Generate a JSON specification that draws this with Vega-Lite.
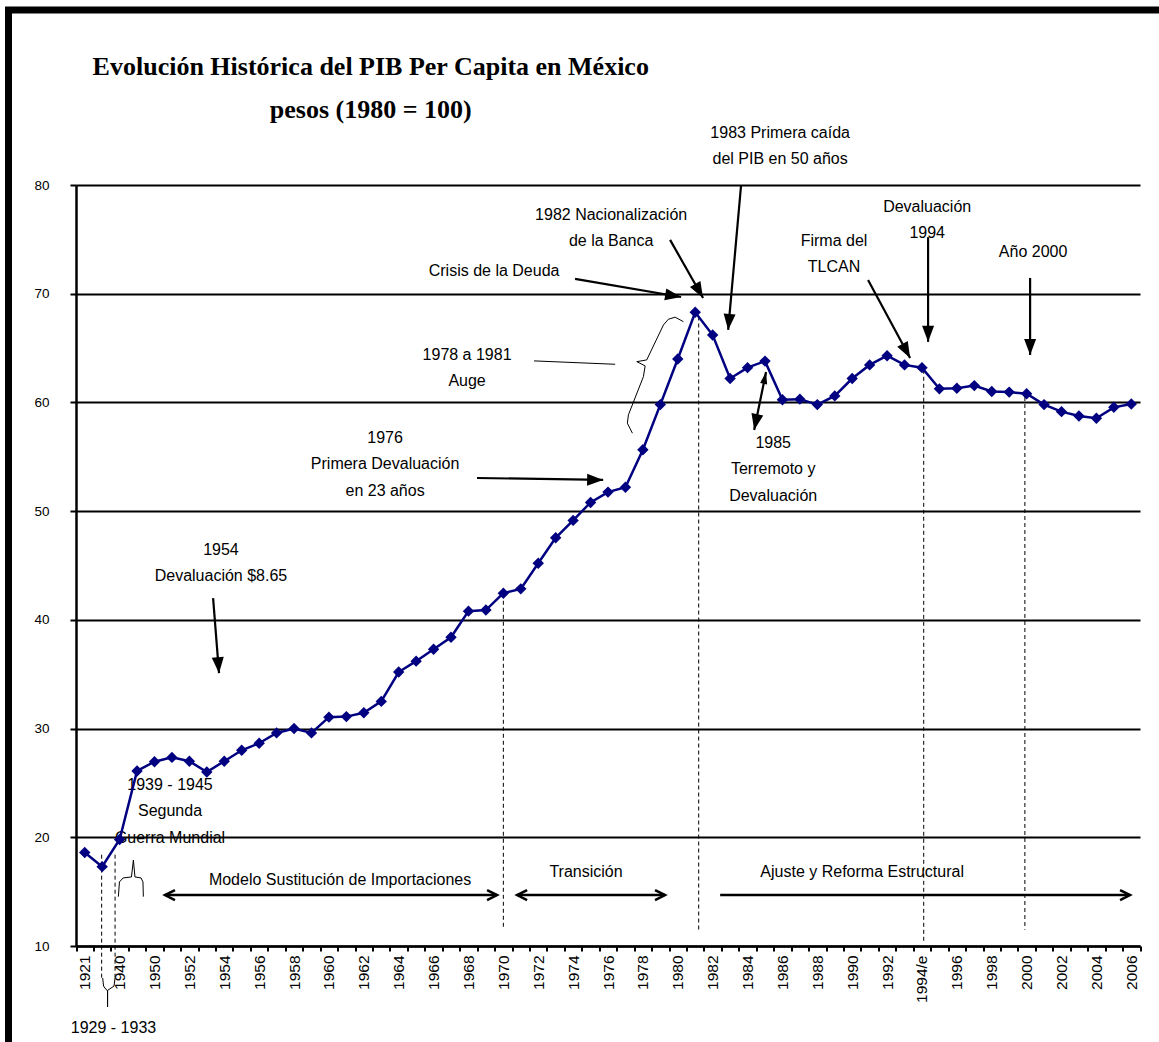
{
  "$schema": "https://vega.github.io/schema/vega-lite/v6.json",
  "width": 1150.5,
  "height": 1032,
  "autosize": {"type": "none"},
  "padding": {"left": 8.5, "top": 10, "right": 0, "bottom": 0},
  "background": "white",
  "config": {
    "view": {"stroke": "black", "strokeWidth": 7, "strokeCap": "square", "strokeDash": [1150.5, 2182.5, 1032, 0]},
    "text": {"font": "Liberation Sans", "fontSize": 16, "color": "black"}
  },
  "title": {
    "text": ["Evolución Histórica del PIB Per Capita en México", "pesos (1980 = 100)"],
    "font": "Liberation Serif",
    "fontSize": 26,
    "fontWeight": "bold",
    "color": "black",
    "anchor": "middle",
    "frame": "group",
    "baseline": "top",
    "offset": 0,
    "dx": -213,
    "dy": 113,
    "lineHeight": 43
  },
  "datasets": {
    "series": [
      {"year": "1921", "value": 18.6},
      {"year": "1932", "value": 17.3},
      {"year": "1940", "value": 19.8},
      {"year": "1945", "value": 26.1},
      {"year": "1950", "value": 26.95},
      {"year": "1951", "value": 27.35},
      {"year": "1952", "value": 27.0},
      {"year": "1953", "value": 26.0},
      {"year": "1954", "value": 27.0},
      {"year": "1955", "value": 28.0},
      {"year": "1956", "value": 28.65},
      {"year": "1957", "value": 29.6},
      {"year": "1958", "value": 30.0},
      {"year": "1959", "value": 29.6},
      {"year": "1960", "value": 31.05},
      {"year": "1961", "value": 31.1},
      {"year": "1962", "value": 31.45},
      {"year": "1963", "value": 32.5},
      {"year": "1964", "value": 35.2},
      {"year": "1965", "value": 36.2},
      {"year": "1966", "value": 37.3},
      {"year": "1967", "value": 38.4},
      {"year": "1968", "value": 40.8},
      {"year": "1969", "value": 40.9},
      {"year": "1970", "value": 42.45},
      {"year": "1971", "value": 42.85},
      {"year": "1972", "value": 45.2},
      {"year": "1973", "value": 47.55},
      {"year": "1974", "value": 49.15},
      {"year": "1975", "value": 50.8},
      {"year": "1976", "value": 51.75},
      {"year": "1977", "value": 52.2},
      {"year": "1978", "value": 55.65},
      {"year": "1979", "value": 59.8},
      {"year": "1980", "value": 64.0},
      {"year": "1981", "value": 68.3},
      {"year": "1982", "value": 66.2},
      {"year": "1983", "value": 62.2},
      {"year": "1984", "value": 63.2},
      {"year": "1985", "value": 63.8},
      {"year": "1986", "value": 60.25},
      {"year": "1987", "value": 60.3},
      {"year": "1988", "value": 59.8},
      {"year": "1989", "value": 60.6},
      {"year": "1990", "value": 62.2},
      {"year": "1991", "value": 63.45},
      {"year": "1992", "value": 64.3},
      {"year": "1993", "value": 63.45},
      {"year": "1994/e", "value": 63.2},
      {"year": "1995", "value": 61.25},
      {"year": "1996", "value": 61.3},
      {"year": "1997", "value": 61.55},
      {"year": "1998", "value": 61.0},
      {"year": "1999", "value": 60.95},
      {"year": "2000", "value": 60.8},
      {"year": "2001", "value": 59.8},
      {"year": "2002", "value": 59.15},
      {"year": "2003", "value": 58.75},
      {"year": "2004", "value": 58.55},
      {"year": "2005", "value": 59.55},
      {"year": "2006", "value": 59.85}
    ],
    "drops": [
      {"t": 1946.97, "value": 18.4, "value2": 7.06},
      {"t": 1947.74, "value": 18.4, "value2": 7.06},
      {"t": 1970.0, "value": 42.4, "value2": 11.5},
      {"t": 1981.2, "value": 67.9, "value2": 11.3},
      {"t": 1994.1, "value": 63.0, "value2": 10.3},
      {"t": 1999.9, "value": 60.5, "value2": 11.5}
    ],
    "braces": [
      {"brace": "auge", "k": 1, "t": 1980.32, "value": 67.43},
      {"brace": "auge", "k": 2, "t": 1979.85, "value": 67.84},
      {"brace": "auge", "k": 3, "t": 1979.46, "value": 67.65},
      {"brace": "auge", "k": 4, "t": 1979.18, "value": 67.13},
      {"brace": "auge", "k": 5, "t": 1978.22, "value": 63.91},
      {"brace": "auge", "k": 6, "t": 1977.65, "value": 63.75},
      {"brace": "auge", "k": 7, "t": 1978.13, "value": 63.36},
      {"brace": "auge", "k": 8, "t": 1978.03, "value": 62.37},
      {"brace": "auge", "k": 9, "t": 1977.17, "value": 58.86},
      {"brace": "auge", "k": 10, "t": 1977.11, "value": 58.09},
      {"brace": "auge", "k": 11, "t": 1977.4, "value": 57.17},
      {"brace": "depresion", "k": 1, "t": 1947.03, "value": 7.06},
      {"brace": "depresion", "k": 2, "t": 1947.08, "value": 6.32},
      {"brace": "depresion", "k": 3, "t": 1947.22, "value": 6.0},
      {"brace": "depresion", "k": 4, "t": 1947.31, "value": 5.91},
      {"brace": "depresion", "k": 5, "t": 1947.31, "value": 4.39},
      {"brace": "depresion", "k": 6, "t": 1947.31, "value": 5.91},
      {"brace": "depresion", "k": 7, "t": 1947.39, "value": 6.0},
      {"brace": "depresion", "k": 8, "t": 1947.68, "value": 6.32},
      {"brace": "depresion", "k": 9, "t": 1947.74, "value": 7.06},
      {"brace": "guerra", "k": 1, "t": 1947.93, "value": 14.54},
      {"brace": "guerra", "k": 2, "t": 1947.99, "value": 15.89},
      {"brace": "guerra", "k": 3, "t": 1948.2, "value": 16.26},
      {"brace": "guerra", "k": 4, "t": 1948.68, "value": 16.35},
      {"brace": "guerra", "k": 5, "t": 1948.79, "value": 17.91},
      {"brace": "guerra", "k": 6, "t": 1948.88, "value": 16.35},
      {"brace": "guerra", "k": 7, "t": 1949.23, "value": 16.26},
      {"brace": "guerra", "k": 8, "t": 1949.34, "value": 15.89},
      {"brace": "guerra", "k": 9, "t": 1949.36, "value": 14.54}
    ],
    "leader": [
      {"t": 1971.76, "value": 63.82, "t2": 1976.41, "value2": 63.51}
    ],
    "callouts": [
      {"label": "1983", "t": 1983.63, "value": 80.0, "t2": 1982.89, "value2": 66.67, "heads": "end"},
      {"label": "banca", "t": 1979.56, "value": 74.95, "t2": 1981.45, "value2": 69.61, "heads": "end"},
      {"label": "deuda", "t": 1974.11, "value": 71.36, "t2": 1980.19, "value2": 69.7, "heads": "end"},
      {"label": "1994", "t": 1994.35, "value": 75.2, "t2": 1994.35, "value2": 65.57, "heads": "end"},
      {"label": "tlcan", "t": 1990.91, "value": 71.27, "t2": 1993.32, "value2": 64.09, "heads": "end"},
      {"label": "2000", "t": 2000.2, "value": 71.45, "t2": 2000.2, "value2": 64.37, "heads": "end"},
      {"label": "1976", "t": 1968.49, "value": 53.05, "t2": 1975.72, "value2": 52.87, "heads": "end"},
      {"label": "1985", "t": 1985.06, "value": 62.8, "t2": 1984.38, "value2": 57.47, "heads": "both"},
      {"label": "1954", "t": 1953.36, "value": 42.0, "t2": 1953.7, "value2": 35.1, "heads": "end"}
    ],
    "spans": [
      {"label": "Modelo", "t": 1950.6, "value": 14.69, "t2": 1969.64, "value2": 14.69, "heads": "both"},
      {"label": "Transición", "t": 1970.79, "value": 14.69, "t2": 1979.27, "value2": 14.69, "heads": "both"},
      {"label": "Ajuste", "t": 1982.43, "value": 14.69, "t2": 2005.93, "value2": 14.69, "heads": "end"}
    ],
    "notes": [
      {"t": 1985.87, "value": 84.79, "text": "1983 Primera caída\ndel PIB en 50 años"},
      {"t": 1976.18, "value": 77.25, "text": "1982 Nacionalización\nde la Banca"},
      {"t": 1969.47, "value": 72.1, "text": "Crisis de la Deuda"},
      {"t": 1994.3, "value": 77.99, "text": "Devaluación\n1994"},
      {"t": 1988.96, "value": 74.86, "text": "Firma del\nTLCAN"},
      {"t": 2000.37, "value": 73.85, "text": "Año 2000"},
      {"t": 1967.92, "value": 64.37, "text": "1978 a 1981\nAuge"},
      {"t": 1963.22, "value": 56.73, "text": "1976\nPrimera Devaluación\nen 23 años"},
      {"t": 1985.47, "value": 56.27, "text": "1985\nTerremoto y\nDevaluación"},
      {"t": 1953.81, "value": 46.43, "text": "1954\nDevaluación $8.65"},
      {"t": 1950.89, "value": 24.81, "text": "1939 - 1945\nSegunda\nGuerra Mundial"},
      {"t": 1960.64, "value": 16.07, "text": "Modelo Sustitución de Importaciones"},
      {"t": 1974.74, "value": 16.81, "text": "Transición"},
      {"t": 1990.57, "value": 16.81, "text": "Ajuste y Reforma Estructural"},
      {"t": 1947.65, "value": 2.46, "text": "1929 - 1933\nGran Depresión"}
    ]
  },
  "encoding": {
    "y": {
      "field": "value",
      "type": "quantitative",
      "scale": {"domain": [10, 80], "range": [936, 175], "nice": false, "zero": false},
      "axis": {
        "title": null,
        "values": [10, 20, 30, 40, 50, 60, 70, 80],
        "grid": true,
        "gridColor": "black",
        "gridWidth": 2,
        "gridOpacity": 1,
        "domainColor": "black",
        "domainWidth": 2.5,
        "tickColor": "black",
        "tickSize": 6,
        "tickWidth": 2,
        "labelFont": "Liberation Sans",
        "labelFontSize": 13.5,
        "labelColor": "black",
        "labelPadding": 21,
        "offset": -67.5
      }
    }
  },
  "layer": [
    {
      "encoding": {
        "x": {
          "field": "t",
          "type": "quantitative",
          "scale": {"domain": [1945.5, 2006.5], "range": [67.5, 1131.5], "nice": false, "zero": false},
          "axis": null
        }
      },
      "layer": [
        {
          "data": {"name": "drops"},
          "mark": {"type": "rule", "color": "black", "strokeWidth": 1, "strokeDash": [4, 3]},
          "encoding": {"y2": {"field": "value2"}}
        },
        {
          "data": {"name": "braces"},
          "mark": {"type": "line", "color": "black", "strokeWidth": 1},
          "encoding": {"order": {"field": "k", "type": "quantitative"}, "detail": {"field": "brace"}}
        },
        {
          "data": {"name": "leader"},
          "mark": {"type": "rule", "color": "black", "strokeWidth": 1},
          "encoding": {"x2": {"field": "t2"}, "y2": {"field": "value2"}}
        },
        {
          "data": {"name": "callouts"},
          "mark": {"type": "rule", "color": "black", "strokeWidth": 2.2},
          "encoding": {"x2": {"field": "t2"}, "y2": {"field": "value2"}}
        },
        {
          "data": {"name": "callouts"},
          "transform": [
            {"calculate": "atan2(-(datum.value2 - datum.value) * 10.87, (datum.t2 - datum.t) * 17.44) * 180 / PI + 90", "as": "heading"}
          ],
          "mark": {"type": "point", "shape": "M0,0L0.75,2L-0.75,2Z", "filled": true, "color": "black", "size": 256, "opacity": 1},
          "encoding": {
            "x": {"field": "t2", "type": "quantitative"},
            "y": {"field": "value2", "type": "quantitative"},
            "angle": {"field": "heading", "type": "quantitative", "scale": null}
          }
        },
        {
          "data": {"name": "callouts"},
          "transform": [
            {"filter": "datum.heads == 'both'"},
            {"calculate": "atan2(-(datum.value - datum.value2) * 10.87, (datum.t - datum.t2) * 17.44) * 180 / PI + 90", "as": "heading"}
          ],
          "mark": {"type": "point", "shape": "M0,0L0.6,2L-0.6,2Z", "filled": true, "color": "black", "size": 144, "opacity": 1},
          "encoding": {
            "angle": {"field": "heading", "type": "quantitative", "scale": null}
          }
        },
        {
          "data": {"name": "spans"},
          "mark": {"type": "rule", "color": "black", "strokeWidth": 2.5},
          "encoding": {"x2": {"field": "t2"}, "y2": {"field": "value2"}}
        },
        {
          "data": {"name": "spans"},
          "transform": [
            {"calculate": "atan2(-(datum.value2 - datum.value) * 10.87, (datum.t2 - datum.t) * 17.44) * 180 / PI + 90", "as": "heading"}
          ],
          "mark": {"type": "point", "shape": "M-1,2L0,0L1,2", "filled": false, "color": "black", "strokeWidth": 2.5, "size": 100, "opacity": 1},
          "encoding": {
            "x": {"field": "t2", "type": "quantitative"},
            "y": {"field": "value2", "type": "quantitative"},
            "angle": {"field": "heading", "type": "quantitative", "scale": null}
          }
        },
        {
          "data": {"name": "spans"},
          "transform": [
            {"filter": "datum.heads == 'both'"},
            {"calculate": "atan2(-(datum.value - datum.value2) * 10.87, (datum.t - datum.t2) * 17.44) * 180 / PI + 90", "as": "heading"}
          ],
          "mark": {"type": "point", "shape": "M-1,2L0,0L1,2", "filled": false, "color": "black", "strokeWidth": 2.5, "size": 100, "opacity": 1},
          "encoding": {
            "angle": {"field": "heading", "type": "quantitative", "scale": null}
          }
        },
        {
          "data": {"name": "notes"},
          "mark": {"type": "text", "align": "center", "baseline": "middle", "lineBreak": "\n", "lineHeight": 26.5, "font": "Liberation Sans", "fontSize": 16, "color": "black"},
          "encoding": {"text": {"field": "text"}}
        }
      ]
    },
    {
      "data": {"name": "series"},
      "encoding": {
        "x": {
          "field": "year",
          "type": "ordinal",
          "sort": null,
          "scale": {"type": "band", "range": [67.5, 1131.5], "paddingInner": 0, "paddingOuter": 0},
          "axis": {
            "title": null,
            "labelAngle": -90,
            "labelAlign": "right",
            "labelBaseline": "middle",
            "labelExpr": "(datum.value == '1921' || datum.value == '1940' || datum.value == '1994/e' || (toNumber(datum.value) >= 1950 && toNumber(datum.value) % 2 == 0)) ? datum.value : ''",
            "labelOverlap": false,
            "tickBand": "extent",
            "tickSize": 5,
            "tickColor": "black",
            "tickWidth": 2,
            "domainColor": "black",
            "domainWidth": 2.5,
            "labelFont": "Liberation Sans",
            "labelFontSize": 15.5,
            "labelColor": "black",
            "labelPadding": 4,
            "grid": false,
            "offset": -96
          }
        }
      },
      "layer": [
        {"mark": {"type": "line", "color": "#000080", "strokeWidth": 2.5}},
        {"mark": {"type": "point", "shape": "diamond", "filled": true, "color": "#000080", "size": 130, "opacity": 1}}
      ]
    }
  ],
  "resolve": {"scale": {"x": "independent"}, "axis": {"x": "independent"}}
}
